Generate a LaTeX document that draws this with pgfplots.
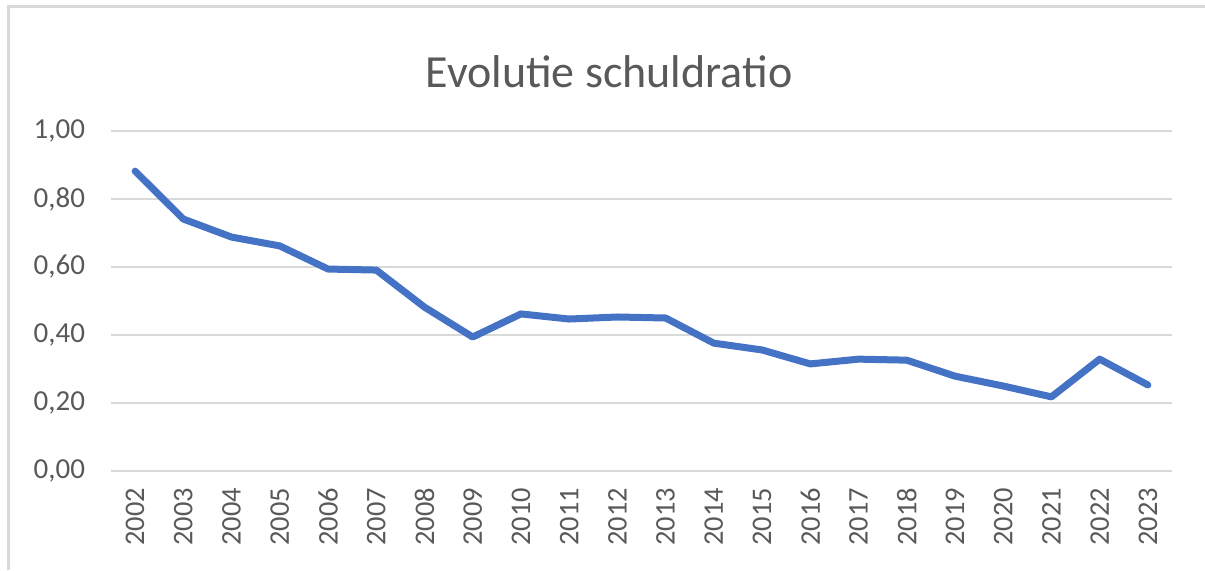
\documentclass[border=0pt]{standalone}
\usepackage{pgfplots}
\pgfplotsset{compat=1.18}
\usepackage{fontspec}
\setmainfont{Carlito}
\definecolor{txtc}{HTML}{595959}
\definecolor{gridc}{HTML}{D9D9D9}
\definecolor{linec}{HTML}{4472C4}
\begin{document}
\begin{tikzpicture}[x=0.5pt,y=0.5pt]
\useasboundingbox (0,0) rectangle (1205,570);
\draw[gridc, line width=1.5pt] (8,0) -- (8,564) -- (1205,564);
\node[anchor=base, text=txtc, font=\fontsize{23}{27}\selectfont] at (609,483) {Evolutie schuldratio};
\begin{axis}[
  at={(55.5pt,49.5pt)}, anchor=south west,
  scale only axis, width=530.5pt, height=170pt,
  xmin=-0.5, xmax=21.5, ymin=0, ymax=1,
  axis line style={draw=none},
  xtick=data,
  xticklabels={2002,2003,2004,2005,2006,2007,2008,2009,2010,2011,2012,2013,2014,2015,2016,2017,2018,2019,2020,2021,2022,2023},
  ytick={0,0.2,0.4,0.6,0.8,1},
  major tick length=0pt,
  xmajorgrids=false, ymajorgrids=true,
  grid style={draw=gridc, line width=0.75pt},
  /pgf/number format/.cd, use comma, fixed, fixed zerofill, precision=2, assume math mode=true,
  /pgfplots/.cd,
  yticklabel style={text=txtc, font=\fontsize{14.5}{17}\selectfont, xshift=-9.5pt},
  xticklabel style={text=txtc, font=\fontsize{14.2}{17}\selectfont, rotate=90, anchor=east, xshift=-5pt},
  clip=false,
]
\addplot[linec, line width=3.5pt, line join=round, line cap=round] coordinates {
(0,0.882) (1,0.741) (2,0.688) (3,0.662) (4,0.594) (5,0.591) (6,0.482) (7,0.394)
(8,0.462) (9,0.447) (10,0.453) (11,0.450) (12,0.376) (13,0.356) (14,0.315)
(15,0.329) (16,0.326) (17,0.279) (18,0.250) (19,0.218) (20,0.329) (21,0.253)
};
\end{axis}
\end{tikzpicture}
\end{document}
